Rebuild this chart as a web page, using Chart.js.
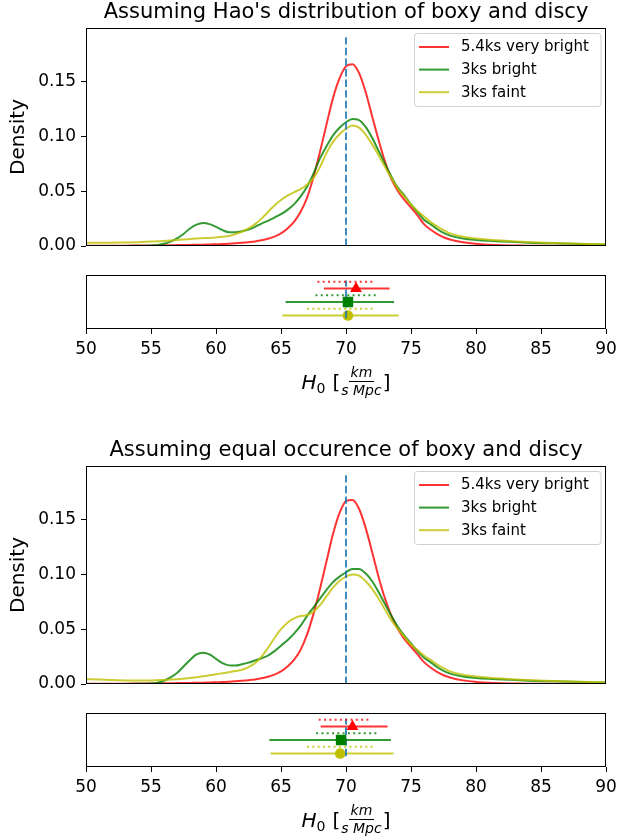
<!DOCTYPE html>
<html>
<head>
<meta charset="utf-8">
<script src="https://cdn.jsdelivr.net/npm/chart.js@4.4.1/dist/chart.umd.min.js"></script>
<style>
html,body{margin:0;padding:0;background:#fff;}
body{width:617px;height:840px;position:relative;overflow:hidden;font-family:"DejaVu Sans",sans-serif;}
canvas{position:absolute;left:0;}
.xl{position:absolute;left:86px;width:520px;height:36px;line-height:36px;text-align:center;font-size:20px;color:#000;white-space:nowrap;}
.xl .mi{font-style:italic;}
.xl sub{font-size:0.7em;vertical-align:-0.3em;line-height:0;}
.xl .br{margin-left:0.35em;}
.xl .frac{display:inline-flex;flex-direction:column;align-items:center;vertical-align:middle;font-size:0.7em;font-style:italic;line-height:1.05;margin:0 1px;position:relative;top:-2px;}
.xl .num{border-bottom:1.2px solid #000;padding:0 2px 1px;}
.xl .den{padding-top:1px;}
</style>
</head>
<body>
<canvas id="d1" width="617" height="260" style="top:0px"></canvas>
<canvas id="s1" width="617" height="110" style="top:262px"></canvas>
<div class="xl" style="top:364px"><span class="mi">H</span><sub>0</sub><span class="br">[</span><span class="frac"><span class="num">km</span><span class="den">s Mpc</span></span>]</div>
<canvas id="d2" width="617" height="260" style="top:438px"></canvas>
<canvas id="s2" width="617" height="110" style="top:700px"></canvas>
<div class="xl" style="top:802px"><span class="mi">H</span><sub>0</sub><span class="br">[</span><span class="frac"><span class="num">km</span><span class="den">s Mpc</span></span>]</div>
<script>
// ---------------- data ----------------
const panelTitles = ["Assuming Hao's distribution of boxy and discy", "Assuming equal occurence of boxy and discy"];
const seriesNames = ['5.4ks very bright', '3ks bright', '3ks faint'];
const xTicks = [50, 55, 60, 65, 70, 75, 80, 85, 90];
const densityTicks = [0, 0.05, 0.10, 0.15];
const refH0 = 70;
const refLineTop = 0.192;

const h0Grid = [50,51,52,53,54,55,55.5,56,56.5,57,57.5,58,58.5,59,59.5,60,60.5,61,61.5,62,62.5,63,63.5,64,64.5,65,65.5,66,66.5,67,67.5,68,68.5,69,69.5,70,70.5,71,71.5,72,72.5,73,73.5,74,74.5,75,75.5,76,76.5,77,77.5,78,79,80,81,82,83,84,86,88,90];

const haoRed = [0.0002,0.0002,0.0003,0.0003,0.0004,0.0005,
  0.0005,0.0006,0.0007,0.0008,0.0009,0.001,0.0011,0.0012,0.0014,0.0016,
  0.0018,0.002,0.0024,0.0029,0.0035,0.0042,0.0052,0.0066,0.0086,0.0115,
  0.016,0.022,0.031,0.044,0.063,0.086,0.111,0.135,0.153,0.164,
  0.166,0.158,0.141,0.119,0.097,0.077,0.061,0.050,0.042,0.035,
  0.028,0.020,0.015,0.011,0.008,0.006,
  0.0035,0.002,0.0012,0.0007,0.0005,0.0003,
  0.0002,0.0001,0.0001];
const haoGreen = [0.0001,0.0001,0.0001,0.0001,0.0002,0.0005,
  0.001,0.002,0.004,0.007,0.011,0.016,0.0195,0.021,0.020,0.0175,
  0.0145,0.0125,0.0125,0.0135,0.015,0.0175,0.0205,0.023,0.026,0.029,
  0.033,0.038,0.045,0.054,0.066,0.080,0.091,0.101,0.108,0.113,
  0.116,0.115,0.109,0.099,0.087,0.075,0.063,0.053,0.046,0.038,
  0.031,0.024,0.020,0.0155,0.012,0.0095,
  0.0068,0.0055,0.0047,0.0042,0.0036,0.003,
  0.0024,0.0018,0.0013];
const haoYellow = [0.003,0.003,0.003,0.0032,0.0035,0.004,
  0.0043,0.0046,0.005,0.0055,0.006,0.0064,0.0068,0.0071,0.0074,0.0078,
  0.0084,0.0092,0.011,0.013,0.016,0.020,0.025,0.031,0.037,0.042,
  0.046,0.049,0.052,0.056,0.062,0.072,0.085,0.095,0.102,0.107,
  0.110,0.108,0.102,0.093,0.083,0.072,0.062,0.052,0.045,0.038,
  0.032,0.027,0.022,0.018,0.0145,0.0115,
  0.0085,0.0068,0.0057,0.005,0.0042,0.0036,
  0.0028,0.002,0.0015];

const eqRed = [0.0002,0.0002,0.0003,0.0003,0.0004,0.0005,
  0.0005,0.0006,0.0007,0.0008,0.0009,0.001,0.0011,0.0012,0.0014,0.0016,
  0.0018,0.002,0.0024,0.0029,0.0035,0.0042,0.0052,0.0066,0.0086,0.0115,
  0.016,0.022,0.031,0.045,0.064,0.087,0.112,0.137,0.156,0.167,
  0.168,0.160,0.143,0.121,0.098,0.078,0.062,0.050,0.041,0.034,
  0.027,0.020,0.015,0.011,0.008,0.006,
  0.0033,0.0019,0.0011,0.0007,0.0005,0.0003,
  0.0002,0.0001,0.0001];
const eqGreen = [0.0001,0.0001,0.0001,0.0001,0.0002,0.0005,
  0.0012,0.003,0.006,0.010,0.016,0.022,0.027,0.0285,0.027,0.023,
  0.019,0.017,0.0168,0.018,0.0195,0.0215,0.0235,0.026,0.030,0.035,
  0.040,0.046,0.053,0.062,0.070,0.078,0.086,0.093,0.098,0.102,
  0.105,0.105,0.101,0.094,0.084,0.073,0.062,0.052,0.044,0.037,
  0.030,0.024,0.020,0.0155,0.012,0.0095,
  0.0068,0.0055,0.0047,0.0042,0.0036,0.003,
  0.0024,0.0018,0.0013];
const eqYellow = [0.0045,0.004,0.0036,0.0033,0.0032,0.0033,
  0.0035,0.0037,0.004,0.0044,0.0049,0.0055,0.0062,0.007,0.0079,0.0088,
  0.0098,0.0108,0.0118,0.013,0.0155,0.019,0.025,0.033,0.042,0.050,
  0.056,0.060,0.062,0.063,0.066,0.072,0.080,0.088,0.094,0.098,
  0.100,0.099,0.094,0.087,0.078,0.068,0.058,0.050,0.043,0.036,
  0.031,0.026,0.022,0.018,0.0145,0.0115,
  0.0085,0.0068,0.0057,0.005,0.0042,0.0036,
  0.0028,0.002,0.0015];

// summary strip values (order: very bright, bright, faint)
const haoCentre    = [70.77, 70.15, 70.15];
const haoOuterLow  = [68.3, 65.35, 65.1];
const haoOuterHigh = [73.35, 73.7, 74.05];
const haoInnerLow  = [67.8, 67.65, 67.0];
const haoInnerHigh = [72.1, 72.45, 72.25];
const eqCentre     = [70.5, 69.62, 69.55];
const eqOuterLow   = [68.05, 64.1, 64.2];
const eqOuterHigh  = [73.2, 73.45, 73.65];
const eqInnerLow   = [67.9, 67.7, 67.0];
const eqInnerHigh  = [71.8, 72.4, 72.2];
const solidRow  = [2, 1, 0];
const dottedRow = [2.5, 1.5, 0.5];
const refStripLow = -0.2, refStripHigh = 2.6;

// ---------------- styles ----------------
const FONT = 'DejaVu Sans';
const LINE_COLORS = ['rgba(255,0,0,0.8)', 'rgba(0,128,0,0.8)', 'rgba(191,191,0,0.8)'];
const MARK_COLORS = ['#ff0000', '#008000', '#bfbf00'];
const MARKERS = ['triangle', 'rect', 'circle'];
const MARK_R = [6.8, 7.4, 5.3];
const REF_BLUE = 'rgba(31,119,180,0.85)';
const DASH = [7.4, 3.2];
const DOT = [2, 3.3];
const DRAW_ORDER = [1, 2, 4]; // higher drawn first

const framePlugin = {
  id: 'frame',
  afterDraw(chart) {
    const a = chart.chartArea, c = chart.ctx;
    c.save();
    c.strokeStyle = '#000';
    c.lineWidth = 1;
    const l = Math.round(a.left) + 0.5, t = Math.round(a.top) + 0.5;
    const r = Math.round(a.right) - 0.5, b = Math.round(a.bottom) - 0.5;
    c.strokeRect(l, t, r - l, b - t);
    c.restore();
  }
};

const legendPlugin = {
  id: 'boxLegend',
  afterDatasetsDraw(chart) {
    const a = chart.chartArea, c = chart.ctx;
    const items = chart.data.datasets.filter(d => d.inLegend);
    const boxR = a.right - 5, boxL = a.right - 191.5;
    const boxT = a.top + 5.5, boxB = a.top + 78.5, rad = 3;
    c.save();
    c.beginPath();
    c.moveTo(boxL + rad, boxT);
    c.lineTo(boxR - rad, boxT); c.arcTo(boxR, boxT, boxR, boxT + rad, rad);
    c.lineTo(boxR, boxB - rad); c.arcTo(boxR, boxB, boxR - rad, boxB, rad);
    c.lineTo(boxL + rad, boxB); c.arcTo(boxL, boxB, boxL, boxB - rad, rad);
    c.lineTo(boxL, boxT + rad); c.arcTo(boxL, boxT, boxL + rad, boxT, rad);
    c.closePath();
    c.fillStyle = 'rgba(255,255,255,0.8)';
    c.fill();
    c.strokeStyle = '#d0d0d0';
    c.lineWidth = 1;
    c.stroke();
    c.font = '15px "' + FONT + '"';
    c.textBaseline = 'middle';
    c.textAlign = 'left';
    items.forEach((d, i) => {
      const y = boxT + 13.5 + i * 22.6;
      c.beginPath();
      c.strokeStyle = d.borderColor;
      c.lineWidth = 2;
      c.moveTo(boxL + 4.5, y);
      c.lineTo(boxL + 34.5, y);
      c.stroke();
      c.fillStyle = '#000';
      c.fillText(d.label, boxL + 46.5, y + 0.5);
    });
    c.restore();
  }
};

function tickSetter(values) {
  return (scale) => { scale.ticks = values.map(v => ({ value: v })); };
}

function densityChart(id, title, curves) {
  const datasets = [{
    label: 'reference', data: [{ x: refH0, y: 0 }, { x: refH0, y: refLineTop }],
    showLine: true, borderColor: REF_BLUE, borderWidth: 2, borderDash: DASH,
    pointRadius: 0, order: 0
  }];
  curves.forEach((ys, i) => {
    datasets.push({
      label: seriesNames[i], inLegend: true,
      data: h0Grid.map((h, k) => ({ x: h, y: ys[k] })),
      showLine: true, borderColor: LINE_COLORS[i], borderWidth: 2,
      pointRadius: 0, cubicInterpolationMode: 'monotone', order: 3 - i
    });
  });
  return new Chart(document.getElementById(id), {
    type: 'scatter',
    data: { datasets },
    plugins: [framePlugin, legendPlugin],
    options: {
      responsive: false, animation: false, events: [], devicePixelRatio: 1,
      layout: { padding: { left: 0, right: 11, top: 0, bottom: 0 } },
      plugins: {
        legend: { display: false }, tooltip: { enabled: false },
        title: { display: true, text: title, color: '#000', fullSize: false,
          font: { family: FONT, size: 21, weight: 'normal', lineHeight: 1.2 },
          padding: { top: 0, bottom: 2.8 } }
      },
      scales: {
        x: { type: 'linear', min: 50, max: 90,
          ticks: { display: false }, grid: { display: false }, border: { display: false },
          afterFit: (s) => { s.height = 14; s.paddingLeft = 0; s.paddingRight = 0; } },
        y: { type: 'linear', min: 0, max: 0.199,
          afterBuildTicks: tickSetter(densityTicks),
          ticks: { color: '#000', padding: 5, font: { family: FONT, size: 17 },
            callback: (v) => Number(v).toFixed(2) },
          grid: { display: true, drawOnChartArea: false, drawTicks: true, tickLength: 5, tickColor: '#000' },
          border: { display: false },
          title: { display: true, text: 'Density', color: '#000',
            font: { family: FONT, size: 20, weight: 'normal', lineHeight: 1.2 },
            padding: { top: 7, bottom: 0 } },
          afterFit: (s) => { s.width = 86; s.paddingTop = 0; s.paddingBottom = 0; } }
      }
    }
  });
}

function stripChart(id, centre, outerLo, outerHi, innerLo, innerHi) {
  const datasets = [{
    label: 'reference', data: [{ x: refH0, y: refStripLow }, { x: refH0, y: refStripHigh }],
    showLine: true, borderColor: REF_BLUE, borderWidth: 2, borderDash: DASH,
    pointRadius: 0, order: 3
  }];
  seriesNames.forEach((name, i) => {
    datasets.push({
      label: name + ' range', data: [{ x: outerLo[i], y: solidRow[i] }, { x: outerHi[i], y: solidRow[i] }],
      showLine: true, borderColor: LINE_COLORS[i], borderWidth: 2, pointRadius: 0, order: DRAW_ORDER[i] + 0.5
    });
    datasets.push({
      label: name + ' inner', data: [{ x: innerLo[i], y: dottedRow[i] }, { x: innerHi[i], y: dottedRow[i] }],
      showLine: true, borderColor: LINE_COLORS[i], borderWidth: 2, borderDash: DOT, pointRadius: 0, order: DRAW_ORDER[i] + 0.5
    });
    datasets.push({
      label: name, data: [{ x: centre[i], y: solidRow[i] }],
      showLine: false, pointStyle: MARKERS[i], pointRadius: MARK_R[i],
      backgroundColor: MARK_COLORS[i], borderColor: MARK_COLORS[i], pointBorderWidth: 0, order: DRAW_ORDER[i]
    });
  });
  return new Chart(document.getElementById(id), {
    type: 'scatter',
    data: { datasets },
    plugins: [framePlugin],
    options: {
      responsive: false, animation: false, events: [], devicePixelRatio: 1,
      layout: { padding: { left: 86, right: 11, top: 13, bottom: 0 } },
      plugins: { legend: { display: false }, tooltip: { enabled: false } },
      scales: {
        x: { type: 'linear', min: 50, max: 90,
          afterBuildTicks: tickSetter(xTicks),
          ticks: { color: '#000', padding: 5, maxRotation: 0, font: { family: FONT, size: 17 } },
          grid: { display: true, drawOnChartArea: false, drawTicks: true, tickLength: 5, tickColor: '#000' },
          border: { display: false },
          afterFit: (s) => { s.height = 43; s.paddingLeft = 0; s.paddingRight = 0; } },
        y: { type: 'linear', min: -1, max: 3, display: false }
      }
    }
  });
}

densityChart('d1', panelTitles[0], [haoRed, haoGreen, haoYellow]);
stripChart('s1', haoCentre, haoOuterLow, haoOuterHigh, haoInnerLow, haoInnerHigh);
densityChart('d2', panelTitles[1], [eqRed, eqGreen, eqYellow]);
stripChart('s2', eqCentre, eqOuterLow, eqOuterHigh, eqInnerLow, eqInnerHigh);
</script>
</body>
</html>
